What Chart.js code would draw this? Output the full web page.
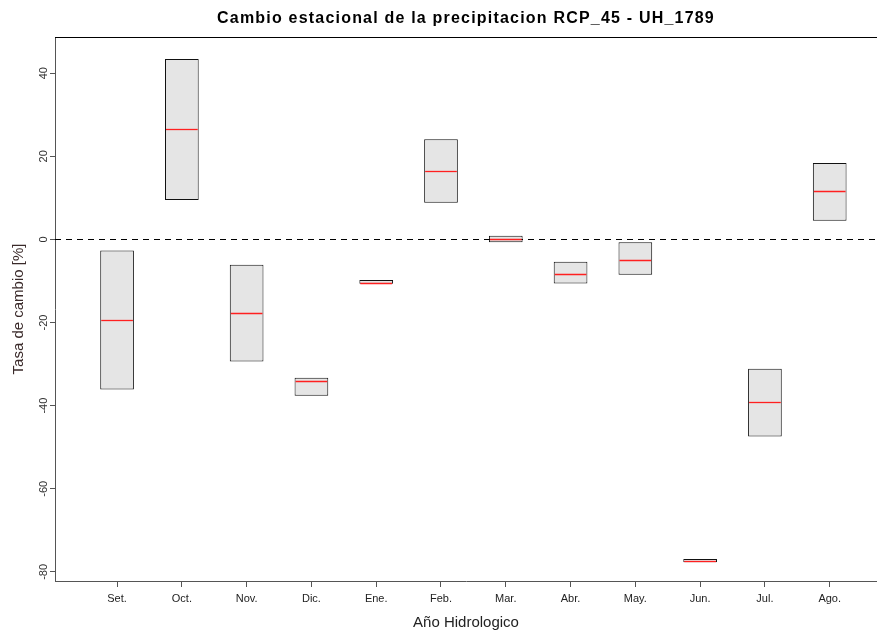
<!DOCTYPE html>
<html><head><meta charset="utf-8">
<script src="https://cdn.jsdelivr.net/npm/chart.js@4"></script>
<style>html,body{margin:0;padding:0;background:#fff}canvas{display:block}</style>
</head><body>
<canvas id="c" width="877" height="632"></canvas>
<script>
const months = ['Set.','Oct.','Nov.','Dic.','Ene.','Feb.','Mar.','Abr.','May.','Jun.','Jul.','Ago.'];
const lowVals = [-36.1, 9.5, -29.4, -37.6, -10.7, 8.8, -0.7, -10.6, -8.5, -77.7, -47.4, 4.5];
const highVals = [-2.7, 43.4, -6.1, -33.3, -9.8, 24.1, 0.9, -5.4, -0.7, -76.9, -31.1, 18.4];
const medianVals = [-19.5, 26.5, -17.6, -34.0, -10.4, 16.5, 0.1, -8.3, -4.9, -77.3, -39.2, 11.7];
const yTicks = [-80, -60, -40, -20, 0, 20, 40];
const titleText = 'Cambio estacional de la precipitacion RCP_45 - UH_1789';

const FONT = '"Liberation Sans", Arial, sans-serif';

const boxData = months.map((m, i) => ({x: i, y: [lowVals[i], highVals[i]]}));

const extras = {
  id: 'extras',
  afterDatasetsDraw(chart) {
    const ctx = chart.ctx, ca = chart.chartArea;
    const ys = chart.scales.y;
    const meta = chart.getDatasetMeta(0);
    ctx.save();
    ctx.strokeStyle = '#000';
    ctx.lineWidth = 1;
    ctx.setLineDash([6, 5]);
    const y0 = Math.round(ys.getPixelForValue(0)) + 0.5;
    ctx.beginPath(); ctx.moveTo(ca.left, y0); ctx.lineTo(ca.right, y0); ctx.stroke();
    ctx.setLineDash([]);
    ctx.strokeStyle = '#ff2020';
    ctx.lineWidth = 1.3;
    meta.data.forEach((bar, i) => {
      const y = Math.round(ys.getPixelForValue(medianVals[i])) + 0.5;
      const w = bar.width;
      ctx.beginPath(); ctx.moveTo(bar.x - w / 2 + 1, y); ctx.lineTo(bar.x + w / 2 - 1, y); ctx.stroke();
    });
    ctx.restore();
  },
  afterDraw(chart) {
    const ctx = chart.ctx, ca = chart.chartArea;
    const ys = chart.scales.y;
    ctx.save();
    ctx.strokeStyle = '#000';
    ctx.lineWidth = 1;
    ctx.beginPath(); ctx.moveTo(ca.left, ca.top + 0.5); ctx.lineTo(ca.right, ca.top + 0.5); ctx.stroke();
    // title
    ctx.fillStyle = '#000';
    ctx.font = 'bold 16px ' + FONT;
    ctx.letterSpacing = '1.2px';
    ctx.textAlign = 'center';
    ctx.textBaseline = 'middle';
    ctx.fillText(titleText, (ca.left + ca.right) / 2, 19);
    ctx.letterSpacing = '0px';
    // rotated y tick labels
    ctx.fillStyle = '#333';
    ctx.font = '11px ' + FONT;
    yTicks.forEach(v => {
      const y = ys.getPixelForValue(v);
      ctx.save();
      ctx.translate(44, y);
      ctx.rotate(-Math.PI / 2);
      ctx.fillText(String(v), 0, 0);
      ctx.restore();
    });
    ctx.restore();
  }
};

new Chart(document.getElementById('c'), {
  type: 'bar',
  data: {
    datasets: [{
      data: boxData,
      backgroundColor: '#e5e5e5',
      borderColor: '#111',
      borderWidth: 1,
      borderSkipped: false,
      barPercentage: 0.52,
      categoryPercentage: 1
    }]
  },
  plugins: [extras],
  options: {
    responsive: false,
    animation: false,
    layout: {padding: {left: 0, right: 0, top: 37, bottom: 0}},
    plugins: {
      legend: {display: false},
      tooltip: {enabled: false},
      title: {display: false}
    },
    scales: {
      x: {
        type: 'linear',
        offset: false,
        min: -0.958,
        max: 11.73,
        afterBuildTicks: s => { s.ticks = months.map((m, i) => ({value: i})); },
        afterFit: s => { s.height = 51; },
        ticks: {
          callback: v => months[v],
          color: '#222',
          font: {family: FONT, size: 11},
          padding: 5,
          maxRotation: 0,
          autoSkip: false
        },
        grid: {drawOnChartArea: false, drawTicks: true, tickLength: 6, color: '#555', offset: false},
        border: {display: true, color: '#555', width: 1},
        title: {
          display: true,
          text: 'Año Hidrologico',
          color: '#222',
          font: {family: FONT, size: 15},
          padding: {top: 3, bottom: 0}
        }
      },
      y: {
        min: -82.2,
        max: 48.7,
        afterBuildTicks: s => { s.ticks = yTicks.map(v => ({value: v})); },
        afterFit: s => { s.width = 55; },
        ticks: {display: false},
        grid: {drawOnChartArea: false, drawTicks: true, tickLength: 5, color: '#555'},
        border: {display: true, color: '#555', width: 1},
        title: {
          display: true,
          text: 'Tasa de cambio [%]',
          color: '#3a2a2a',
          font: {family: FONT, size: 15},
          padding: {top: 10, bottom: 18}
        }
      }
    }
  }
});
</script>
</body></html>
